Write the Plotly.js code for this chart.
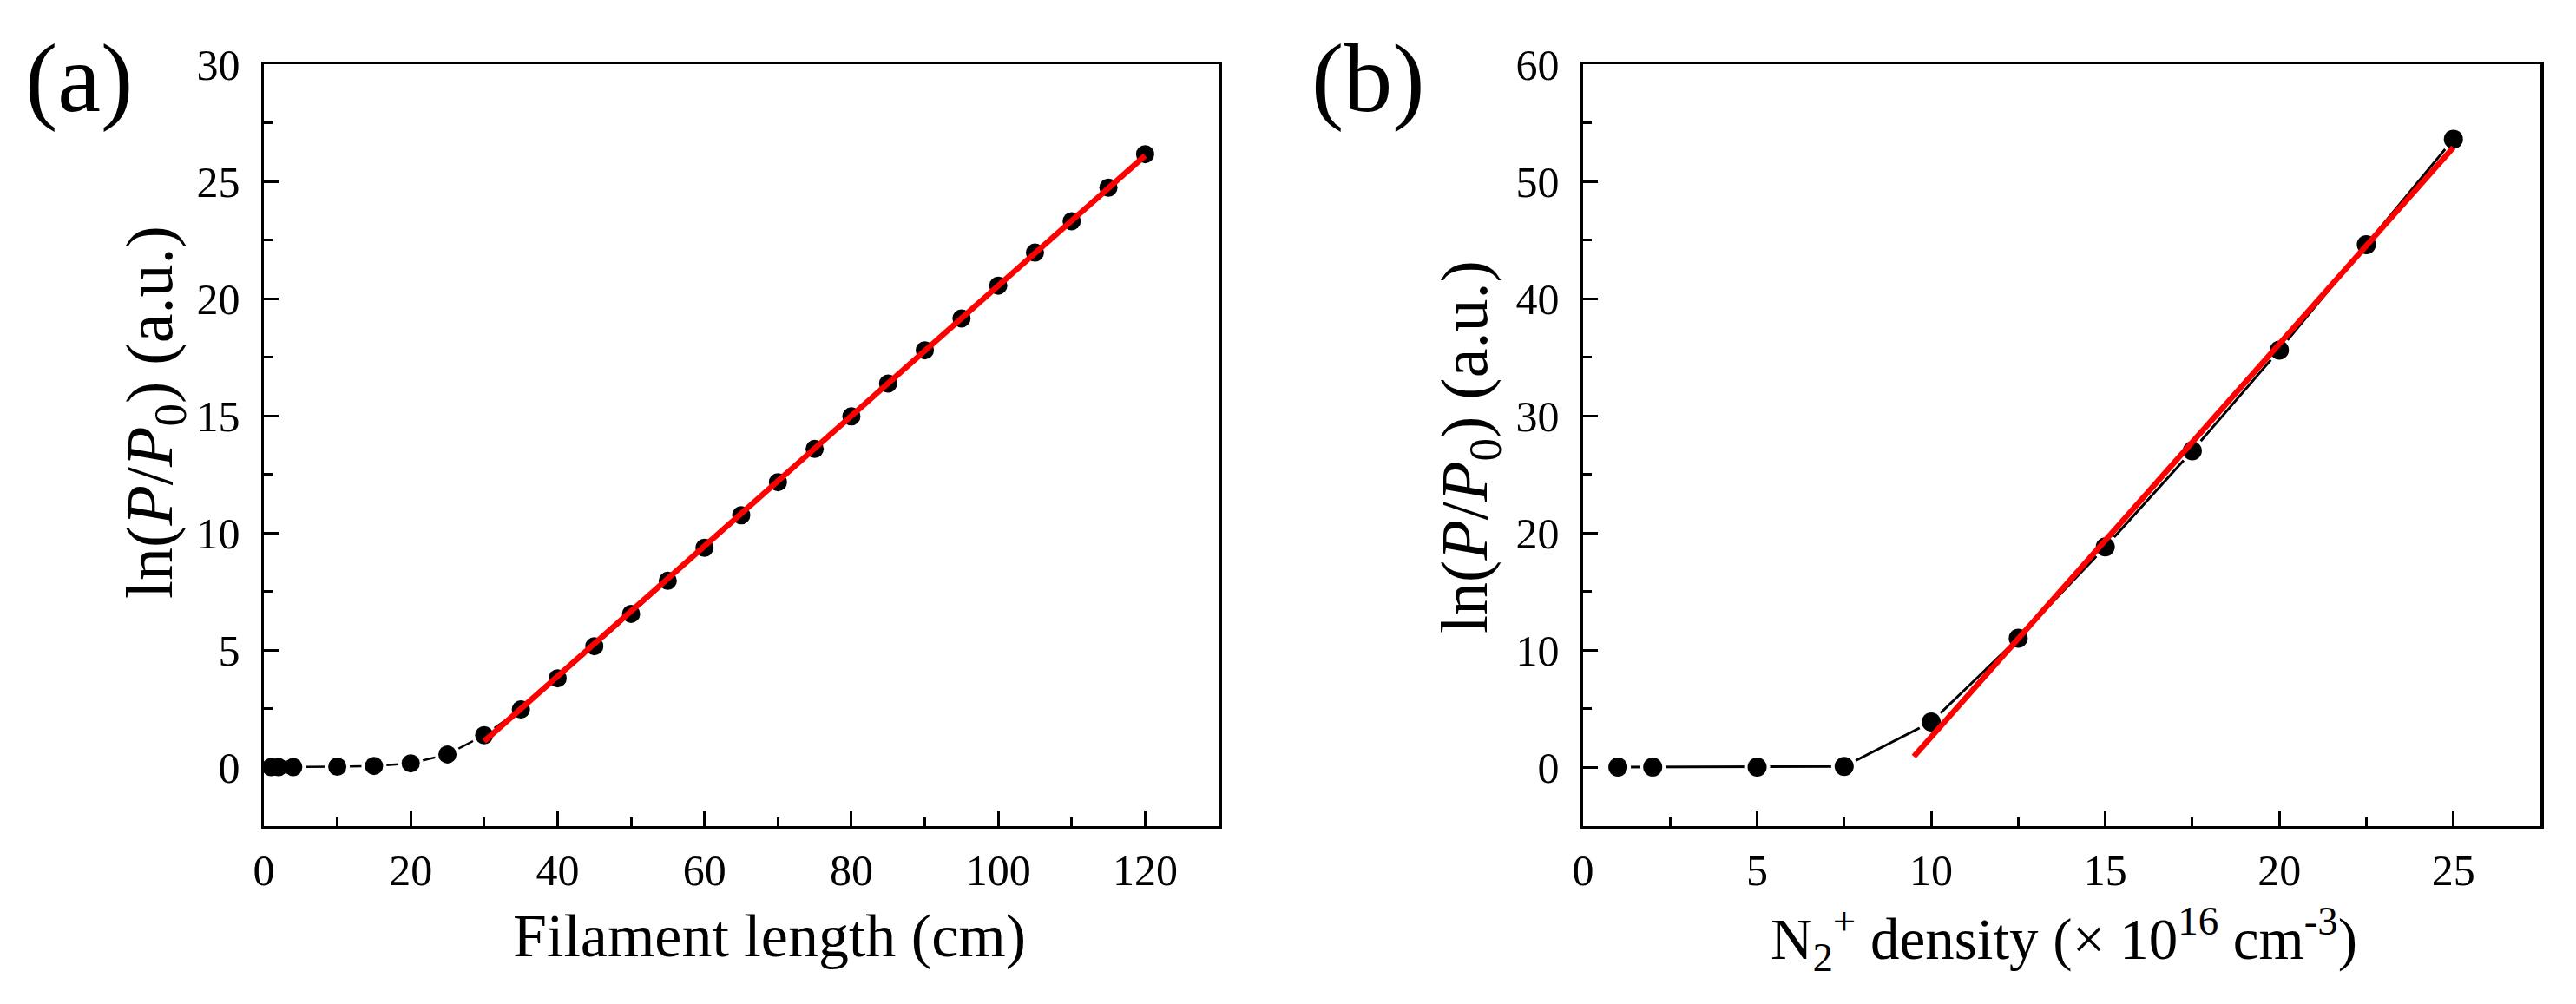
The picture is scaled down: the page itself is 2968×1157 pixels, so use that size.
<!DOCTYPE html>
<html>
<head>
<meta charset="utf-8">
<script src="https://cdn.plot.ly/plotly-3.0.1.min.js"></script>
<style>
  html, body { margin: 0; padding: 0; background: #ffffff; overflow: hidden; }
  #chart { width: 2968px; height: 1157px; }
</style>
</head>
<body>
<div id="chart"></div>
<script>
// ---------- Data ----------
// Panel (a)
const filamentLength = [1, 2, 4, 10, 15, 20, 25, 30, 35, 40, 45, 50, 55, 60, 65, 70, 75, 80, 85, 90, 95, 100, 105, 110, 115, 120];
const lnGainA = [0, 0, 0, 0.02, 0.05, 0.16, 0.54, 1.36, 2.46, 3.79, 5.16, 6.54, 7.95, 9.36, 10.75, 12.16, 13.58, 14.97, 16.37, 17.79, 19.15, 20.55, 21.96, 23.3, 24.73, 26.16];
const fitA_x = [30, 120];
const fitA_y = [1.1, 26.1];

// Panel (b)
const n2Density = [1, 2, 5, 7.5, 10, 12.5, 15, 17.5, 20, 22.5, 25];
const lnGainB = [0, 0, 0, 0.05, 3.85, 11.0, 18.8, 27.0, 35.6, 44.6, 53.6];
const fitB_x = [9.5, 25];
const fitB_y = [0.9, 52.9];

// Axis tick settings
const xTicksA = { range: [0, 130], dtick: 20, minor: 10 };
const yTicksA = { range: [-2.5, 30], dtick: 5, minor: 2.5 };
const xTicksB = { range: [0, 27.5], dtick: 5, minor: 2.5 };
const yTicksB = { range: [-5, 60], dtick: 10, minor: 5 };

// Text
const panelLabels = ['(a)', '(b)'];
const xTitleA = 'Filament length (cm)';
const xTitleB = 'N<sub>2</sub><sup>+</sup> density (× 10<sup>16</sup> cm<sup>-3</sup>)';
const yTitle = 'ln(<i>P</i>/<i>P</i><sub>0</sub>) (a.u.)';

// ---------- Figure ----------
const W = 2968, H = 1157;
const FONT = 'Liberation Serif, Times New Roman, Times, serif';
const boxA = { l: 304, r: 1404 };
const boxB = { l: 1824, r: 2927 };
const boxTop = 74, boxBottom = 951.5;

function axisBase(t, domain, anchor, isY) {
  return {
    domain: domain,
    anchor: anchor,
    range: t.range,
    tick0: 0,
    dtick: t.dtick,
    ticks: 'inside',
    ticklen: 17,
    tickwidth: 3,
    tickcolor: '#000',
    ticklabelstandoff: isY ? 14 : 5,
    showline: true,
    linecolor: '#000',
    linewidth: 3.5,
    mirror: true,
    showgrid: false,
    zeroline: false,
    tickfont: { family: FONT, size: 50, color: '#000' },
    minor: { ticks: 'inside', ticklen: 10, tickwidth: 3, tickcolor: '#000', dtick: t.minor, tick0: 0, showgrid: false },
    fixedrange: true
  };
}

const yDomain = [1 - boxBottom / H, 1 - boxTop / H];

const traces = [
  // panel a: connecting line with gaps around the symbols
  { x: filamentLength, y: lnGainA, xaxis: 'x', yaxis: 'y', type: 'scatter', mode: 'lines+markers',
    line: { color: '#000', width: 2.5 }, marker: { color: '#fff', size: 29 }, hoverinfo: 'skip' },
  { x: filamentLength, y: lnGainA, xaxis: 'x', yaxis: 'y', type: 'scatter', mode: 'markers',
    marker: { color: '#000', size: 21 } },
  { x: fitA_x, y: fitA_y, xaxis: 'x', yaxis: 'y', type: 'scatter', mode: 'lines',
    line: { color: '#ff0000', width: 6.5 } },
  // panel b
  { x: n2Density, y: lnGainB, xaxis: 'x2', yaxis: 'y2', type: 'scatter', mode: 'lines+markers',
    line: { color: '#000', width: 3 }, marker: { color: '#fff', size: 30 }, hoverinfo: 'skip' },
  { x: n2Density, y: lnGainB, xaxis: 'x2', yaxis: 'y2', type: 'scatter', mode: 'markers',
    marker: { color: '#000', size: 22 } },
  { x: fitB_x, y: fitB_y, xaxis: 'x2', yaxis: 'y2', type: 'scatter', mode: 'lines',
    line: { color: '#ff0000', width: 6.5 } }
];

function ann(text, xpx, ypx, size, angle) {
  return { text: text, xref: 'paper', yref: 'paper', x: xpx / W, y: 1 - ypx / H,
    xanchor: 'center', yanchor: 'middle', showarrow: false, textangle: angle || 0,
    font: { family: FONT, size: size, color: '#000' } };
}

const layout = {
  width: W, height: H,
  margin: { l: 0, r: 0, t: 0, b: 0, pad: 0 },
  paper_bgcolor: '#fff', plot_bgcolor: '#fff',
  showlegend: false,
  font: { family: FONT, color: '#000' },
  xaxis: axisBase(xTicksA, [boxA.l / W, boxA.r / W], 'y', false),
  yaxis: axisBase(yTicksA, yDomain, 'x', true),
  xaxis2: axisBase(xTicksB, [boxB.l / W, boxB.r / W], 'y2', false),
  yaxis2: axisBase(yTicksB, yDomain, 'x2', true),
  annotations: [
    ann(panelLabels[0], 91, 90, 112),
    ann(panelLabels[1], 1577, 90, 112),
    ann(xTitleA, 886, 1078, 70),
    ann(xTitleB, 2378, 1082, 67),
    ann(yTitle, 178, 475, 76, -90),
    ann(yTitle, 1693, 515, 76, -90)
  ]
};

Plotly.newPlot('chart', traces, layout, { displayModeBar: false, staticPlot: true });
</script>
</body>
</html>
